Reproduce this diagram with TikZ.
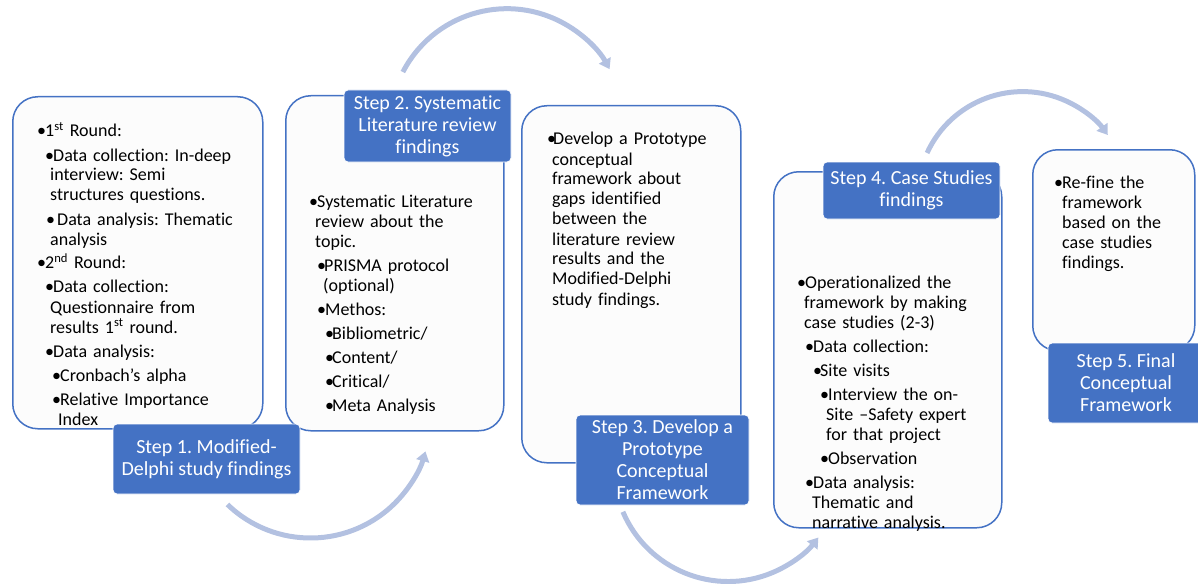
\documentclass[tikz,border=0pt]{standalone}
\usepackage{fontspec}
\setmainfont{Carlito}[Ligatures=NoCommon]
\frenchspacing
\usetikzlibrary{arrows.meta,calc}
\definecolor{accent}{RGB}{68,114,196}
\definecolor{flowc}{RGB}{179,193,225}
\definecolor{panelfill}{RGB}{252,252,252}
% bullet paragraph: #1 bullet offset, #2 text offset, #3 continuation indent (all pt), #4 text
\newcommand\bitem[4]{\par\hangindent=#3pt\hangafter=1\noindent\hspace*{#1pt}\makebox[\dimexpr#2pt-#1pt\relax][l]{•}#4}
\tikzset{
  panel/.style={draw=accent, line width=1.5pt, fill=panelfill, rounded corners=25pt,
    inner sep=0pt, anchor=north west},
  steplabel/.style={fill=accent, draw=white, line width=0.8pt, rounded corners=4pt,
    text=white, align=center, font=\fontsize{20}{22}\selectfont, inner sep=0pt},
  bodytext/.style={anchor=base west, inner sep=0pt, align=left,
    font=\fontsize{18}{20}\selectfont\setlength{\parskip}{4pt}},
  flow/.style={draw=flowc, line width=5pt, -{Triangle[length=10pt,width=13pt]}}
}
\begin{document}
\begin{tikzpicture}[x=1pt,y=1pt]
\useasboundingbox (0,0) rectangle (1198,-583);
\clip (0,0) rectangle (1198,-583);

% curved process arrows
\coordinate (c1) at (310.5,-418.4);
\coordinate (c2) at (507,-126);
\coordinate (c3) at (728.2,-467.1);
\coordinate (c4) at (1022.7,-196.8);
\draw[flow] ($(c1)+(226:119.6)$) arc[start angle=226, end angle=344, radius=119.6];
\draw[flow] ($(c2)+(152.6:117.3)$) arc[start angle=152.6, end angle=29, radius=117.3];
\draw[flow] ($(c3)+(203:114.4)$) arc[start angle=203, end angle=322, radius=114.4];
\draw[flow] ($(c4)+(155.4:105.2)$) arc[start angle=155.4, end angle=36, radius=105.2];

% content panels
\node[panel, minimum width=250pt, minimum height=332pt] (p1) at (12,-96) {};
\node[panel, minimum width=218pt, minimum height=335pt] (p2) at (285,-95) {};
\node[panel, minimum width=219pt, minimum height=357pt] (p3) at (521,-105) {};
\node[panel, minimum width=228pt, minimum height=356pt] (p4) at (773,-171) {};
\node[panel, minimum width=162pt, minimum height=201pt] (p5) at (1032,-149) {};

% panel texts
\node[bodytext, text width=243pt] (t1) at (12,-113) {%
\bitem{25}{33}{33}{1\textsuperscript{st} Round:}
\bitem{33}{41}{38}{Data collection: In-deep\newline interview: Semi\newline structures questions.}
\bitem{34}{45}{38}{Data analysis: Thematic\newline analysis}
\bitem{25}{33}{33}{2\textsuperscript{nd} Round:}
\bitem{33}{41}{38}{Data collection:\newline Questionnaire from\newline results 1\textsuperscript{st} round.}
\bitem{33}{41}{38}{Data analysis:}
\bitem{40}{48}{46}{Cronbach’s alpha}
\bitem{40}{48}{46}{Relative Importance\newline Index}\par};

\node[bodytext, text width=210pt] (t2) at (285,-183) {%
\bitem{24}{32}{30}{Systematic Literature\newline review about the\newline topic.}
\bitem{32}{39}{38}{PRISMA protocol\newline (optional)}
\bitem{32}{40}{38}{Methos:}
\bitem{40}{47}{47}{Bibliometric/}
\bitem{40}{47}{47}{Content/}
\bitem{40}{47}{47}{Critical/}
\bitem{40}{47}{47}{Meta Analysis}\par};

\node[bodytext, text width=210pt] (t3) at (521,-121) {%
\bitem{26}{32}{31}{Develop a Prototype\newline conceptual\newline framework about\newline gaps identified\newline between the\newline literature review\newline results and the\newline Modified-Delphi\newline study findings.}\par};

\node[bodytext, text width=220pt] (t4) at (773,-264) {%
\bitem{24}{32}{31}{Operationalized the\newline framework by making\newline case studies (2-3)}
\bitem{32}{40}{39}{Data collection:}
\bitem{40}{47}{47}{Site visits}
\bitem{47}{55}{53}{Interview the on-\newline Site –Safety expert\newline for that project}
\bitem{47}{55}{55}{Observation}
\bitem{32}{40}{39}{Data analysis:\newline Thematic and\newline narrative analysis.}\par};

\node[bodytext, text width=155pt] (t5) at (1032,-164) {%
\bitem{22}{30}{30}{Re-fine the\newline framework\newline based on the\newline case studies\newline findings.}\par};

% step labels
\node[steplabel, minimum width=187pt, minimum height=70pt] (s1) at (206.5,-459)
  {Step 1. Modified-\\Delphi study findings};
\node[steplabel, minimum width=167pt, minimum height=72pt] (s2) at (427.5,-126)
  {Step 2. Systematic\\Literature review\\findings};
\node[steplabel, minimum width=173pt, minimum height=90pt] (s3) at (662.5,-460)
  {Step 3. Develop a\\Prototype\\Conceptual\\Framework};
\node[steplabel, minimum width=177pt, minimum height=57pt] (s4) at (911.5,-190.5)
  {Step 4. Case Studies\\findings};
\node[steplabel, minimum width=156pt, minimum height=80pt] (s5) at (1126,-383)
  {Step 5. Final\\Conceptual\\Framework};
\end{tikzpicture}
\end{document}
